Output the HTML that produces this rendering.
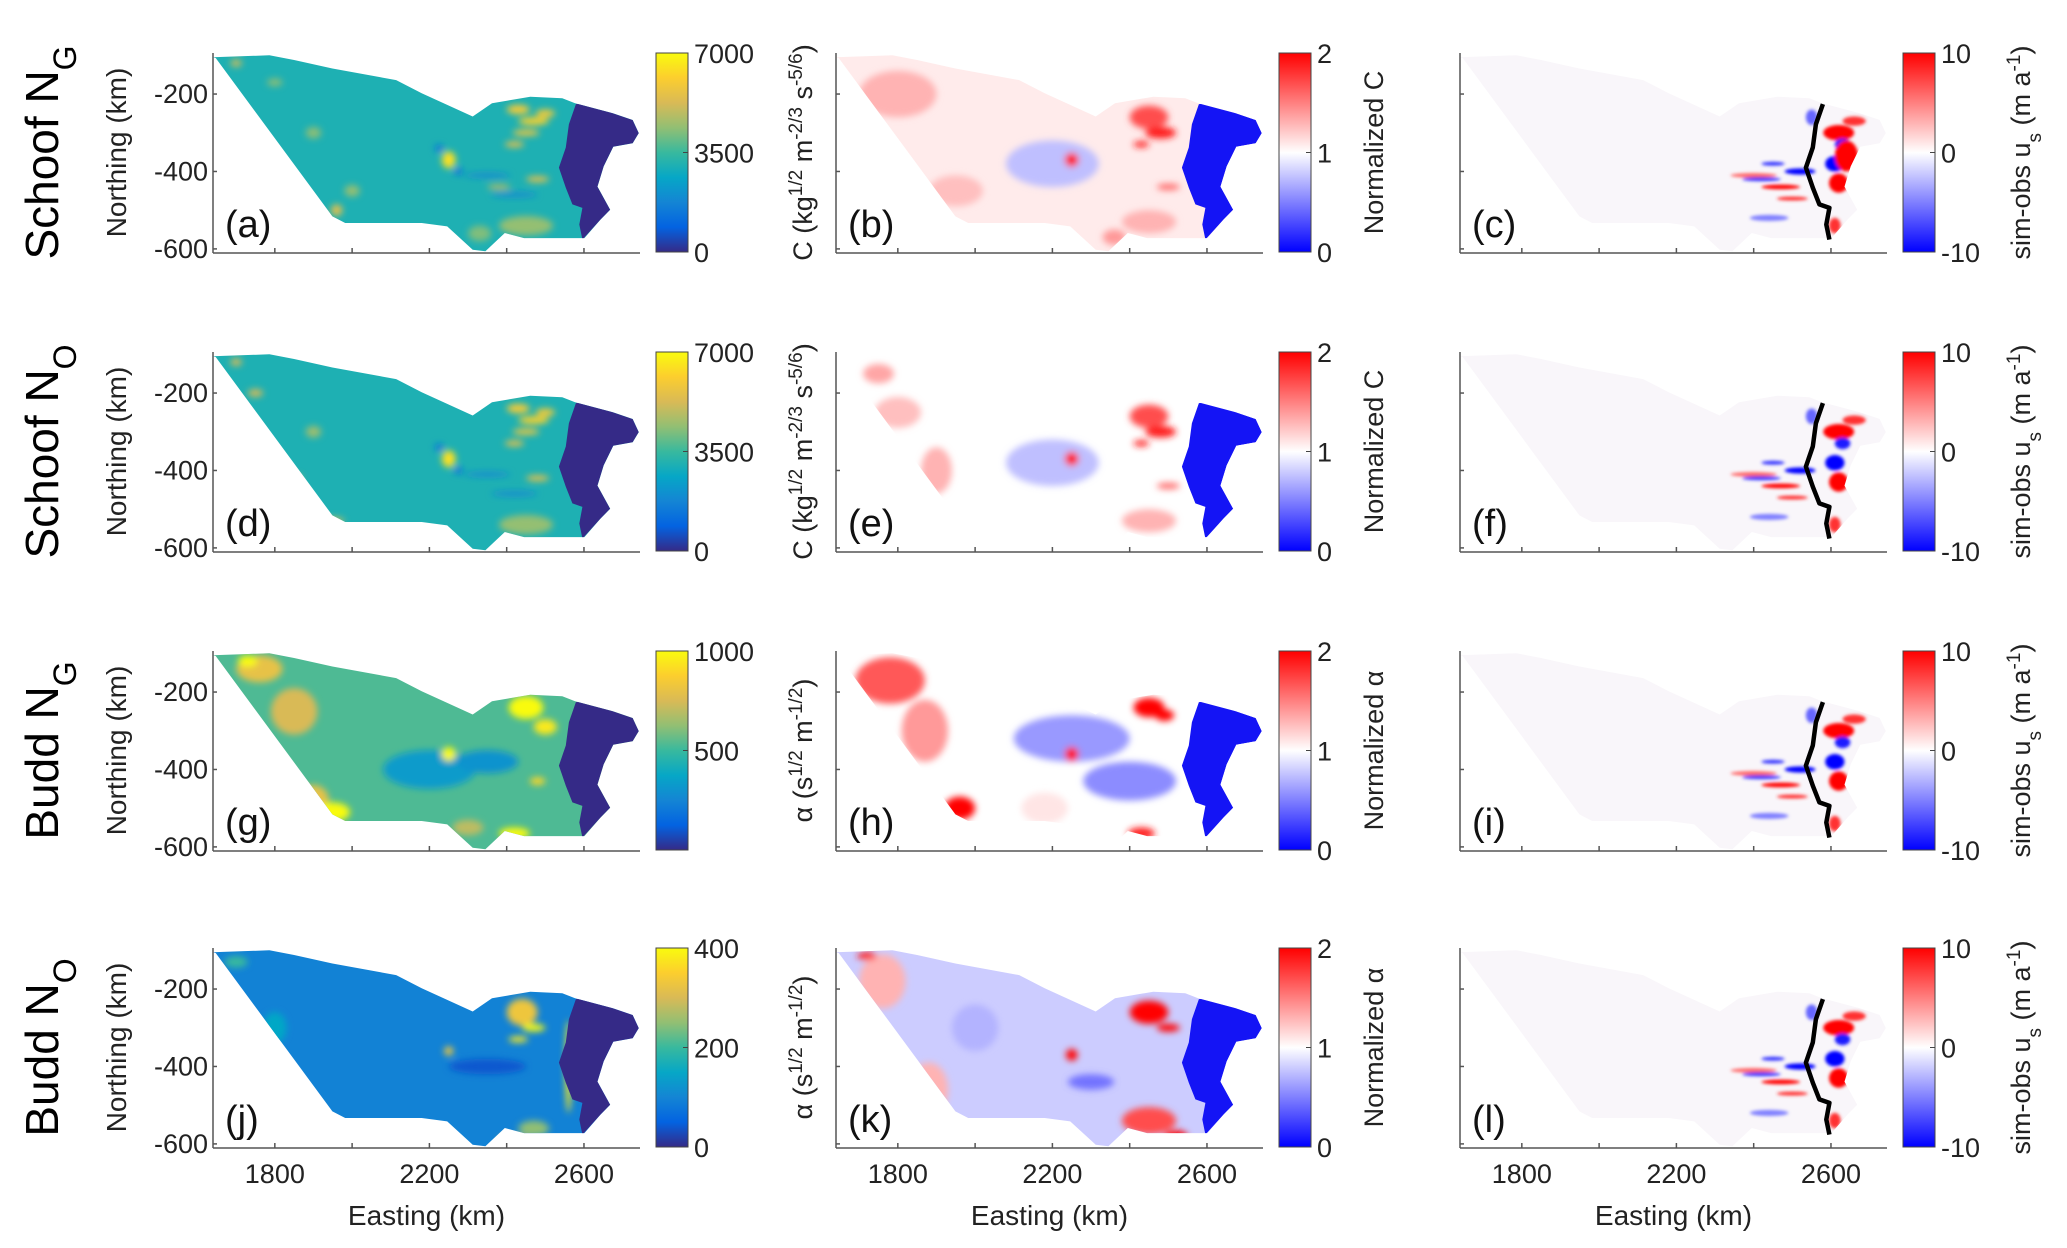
<!DOCTYPE html>
<html><head><meta charset="utf-8">
<style>
html,body{margin:0;padding:0;background:#fff;}
svg{display:block;font-family:"Liberation Sans",sans-serif;}
</style></head>
<body>
<svg id="fig" width="2067" height="1248" viewBox="0 0 2067 1248" xmlns="http://www.w3.org/2000/svg">
<defs id="defs">
<filter id="blur" x="-20%" y="-20%" width="140%" height="140%"><feGaussianBlur stdDeviation="3.5"/></filter>
<filter id="blurS" x="-20%" y="-20%" width="140%" height="140%"><feGaussianBlur stdDeviation="1.5"/></filter>
</defs>
</svg>
<script>
// ---- data ----
const xTicks = [1800, 2000, 2200, 2400, 2600];
const xTickLabels = ["1800", "", "2200", "", "2600"];
const yTicks = [-200, -400, -600];
const yTickLabels = ["-200", "-400", "-600"];
const xDomain = [1640, 2745];
const yDomain = [-94, -608];
const outlineE = [1639,1786,1850,1949,2114,2180,2312,2362,2461,2544,2577,2676,2726,2742,2726,2676,2651,2635,2668,2643,2601,2445,2395,2345,2312,2246,2180,1982,1949,1647];
const outlineN = [-105,-100,-112,-134,-164,-198,-258,-224,-207,-211,-224,-250,-267,-301,-327,-336,-387,-439,-499,-524,-572,-572,-559,-606,-602,-542,-533,-533,-516,-107];
const groundE = [2579,2561,2553,2535,2553,2570,2596,2588,2596];
const groundN = [-226,-278,-338,-390,-442,-485,-494,-537,-576];
const shelfRightE = [2643,2668,2635,2651,2676,2726,2742,2726,2676,2610];
const shelfRightN = [-524,-499,-439,-387,-336,-327,-301,-267,-250,-224];
const rowNames = ["Schoof N", "Schoof N", "Budd N", "Budd N"];
const rowSubs = ["G", "O", "G", "O"];
const panelLetters = [["(a)","(b)","(c)"],["(d)","(e)","(f)"],["(g)","(h)","(i)"],["(j)","(k)","(l)"]];
const col1Max = [7000, 7000, 1000, 400];
const col1TickVals = [[0,3500,7000],[0,3500,7000],[500,1000],[0,200,400]];
const col2TickVals = [0,1,2];
const col3TickVals = [-10,0,10];
const col1Base = [3050, 3050, 530, 95];
const col2Base = [1.08, 1.0, 1.0, 0.8];
const col3Base = [0.15, 0.15, 0.15, 0.15];
// blobs: [easting, northing, radiusE km, radiusN km, value]
const blobsA = [[1700,-120,15,10,5000],[1800,-170,20,10,4300],[1900,-300,20,15,4300],[2000,-450,20,15,4400],[1960,-500,15,15,5500],[2350,-410,60,6,1800],[2420,-460,60,6,1800],[2450,-540,70,25,4400],[2330,-560,30,20,4200],[2250,-370,18,22,6500],[2225,-340,12,10,1500],[2275,-400,12,10,1500],[2430,-240,30,12,6000],[2470,-270,40,10,6200],[2450,-300,35,8,5800],[2500,-250,25,10,6000],[2420,-330,25,8,5500],[2480,-420,30,8,5500],[2380,-440,30,6,5000]];
const blobsD = [[1700,-120,15,10,5200],[1750,-200,20,10,5200],[1850,-420,20,10,5200],[1950,-530,30,8,5500],[1900,-300,20,15,4500],[2350,-410,60,6,1800],[2420,-460,60,6,1800],[2450,-540,70,25,4400],[2250,-370,18,22,6500],[2225,-340,12,10,1500],[2275,-400,12,10,1500],[2430,-240,30,12,6000],[2470,-270,40,10,6200],[2450,-300,35,8,5800],[2500,-250,25,10,6000],[2420,-330,25,8,5500],[2480,-420,30,8,5500]];
const blobsG = [[1760,-140,60,35,800],[1730,-120,25,15,1000],[1850,-250,60,60,750],[1900,-480,40,40,800],[1950,-510,45,25,1000],[2200,-400,120,50,330],[2350,-380,80,30,300],[2300,-550,40,20,700],[2450,-240,45,30,1000],[2500,-290,30,20,950],[2250,-360,18,18,1000],[2420,-565,40,15,1000],[2480,-430,20,10,900]];
const blobsJ = [[1700,-130,30,15,200],[1800,-300,30,40,150],[2350,-400,100,20,40],[2470,-560,40,20,250],[2440,-260,40,35,330],[2470,-300,30,10,400],[2430,-330,25,8,380],[2250,-360,12,12,330],[2420,-590,40,10,350],[2560,-400,8,120,380]];
const blobsB = [[1800,-200,100,60,1.3],[1950,-450,70,40,1.25],[2200,-380,120,60,0.75],[2450,-530,70,30,1.3],[2360,-570,30,20,1.4],[2250,-370,18,18,2],[2450,-260,50,30,1.7],[2480,-300,40,15,1.9],[2430,-330,20,8,1.9],[2500,-440,30,8,1.6]];
const blobsE = [[1750,-150,40,25,1.35],[1900,-400,40,60,1.3],[1800,-250,60,40,1.25],[2200,-380,120,60,0.75],[2450,-530,70,30,1.3],[2250,-370,18,18,2],[2450,-260,50,30,1.7],[2480,-300,40,15,1.9],[2430,-330,20,8,1.9],[2500,-440,30,8,1.6]];
const blobsH = [[1780,-170,90,60,1.65],[1870,-300,60,80,1.4],[1960,-500,40,30,2],[2250,-320,150,60,0.6],[2400,-430,120,50,0.55],[2180,-500,60,40,1.1],[2450,-240,40,25,2],[2490,-260,25,15,2],[2250,-360,18,18,2],[2430,-565,35,15,1.9]];
const blobsK = [[1760,-180,60,70,1.3],[1880,-460,50,70,1.3],[2000,-300,60,60,0.7],[2300,-440,60,20,0.45],[1720,-115,25,10,1.9],[2450,-260,50,30,2],[2500,-300,30,10,2],[2450,-540,70,35,1.7],[2520,-580,30,15,2],[2250,-370,15,15,2]];
const blobsDiff = [[2400,-410,60,6,6],[2420,-420,50,5,-8],[2470,-440,50,6,10],[2520,-400,40,8,-10],[2450,-380,30,5,-8],[2500,-470,40,5,8],[2440,-520,50,8,-5],[2620,-300,40,20,10],[2660,-270,30,12,8],[2610,-380,25,20,-10],[2620,-430,25,25,10],[2630,-330,20,15,-9],[2610,-540,15,20,8],[2550,-260,15,20,-6]];
const blobsC = blobsDiff.concat([[2640,-360,30,40,10]]);

// ---- layout ----
const colLeft = [213, 836, 1460];
const rowTop = [53, 352, 651, 948];
const AW = 427, AH = 199;
const svg = document.getElementById('fig');
const defs = document.getElementById('defs');
const NS = "http://www.w3.org/2000/svg";
function mk(tag, attrs, parent){const e=document.createElementNS(NS,tag);for(const k in attrs)e.setAttribute(k,attrs[k]);(parent||svg).appendChild(e);return e;}

const parula = [[53,42,135],[3,99,225],[20,133,212],[6,167,198],[56,185,158],[146,191,115],[217,186,86],[252,206,46],[249,251,14]];
function lerpMap(stops,t){t=Math.max(0,Math.min(1,t));const n=stops.length-1;const i=Math.min(n-1,Math.floor(t*n));const f=t*n-i;const a=stops[i],b=stops[i+1];return `rgb(${Math.round(a[0]+(b[0]-a[0])*f)},${Math.round(a[1]+(b[1]-a[1])*f)},${Math.round(a[2]+(b[2]-a[2])*f)})`;}
const bwr = [[0,0,255],[255,255,255],[255,0,0]];

function sx(c,E){return colLeft[c]+(E-xDomain[0])/(xDomain[1]-xDomain[0])*AW;}
function sy(r,N){return rowTop[r]+(yDomain[0]-N)/(yDomain[0]-yDomain[1])*AH;}

function txt(s,attrs,parent){const t=mk('text',attrs,parent);t.textContent=s;return t;}

const allBlobs = [[blobsA,blobsB,blobsC],[blobsD,blobsE,blobsDiff],[blobsG,blobsH,blobsDiff],[blobsJ,blobsK,blobsDiff]];

for(let r=0;r<4;r++){
  const rl = mk('text',{x:0,y:0,'font-size':46,'text-anchor':'middle',transform:`translate(58,${rowTop[r]+AH/2}) rotate(-90)`});
  
  
  rl.appendChild(document.createTextNode(rowNames[r]));
  const sub = mk('tspan',{'font-size':32,'baseline-shift':'sub'},rl); sub.textContent=rowSubs[r];

  for(let c=0;c<3;c++){
    const L=colLeft[c], T=rowTop[r];
    const g = mk('g',{});
    
    
    const cpId=`cp${r}${c}`;
    const cp = mk('clipPath',{id:cpId},defs);
    const pts = outlineE.map((E,i)=>`${sx(c,E).toFixed(1)},${sy(r,outlineN[i]).toFixed(1)}`).join(' ');
    mk('polygon',{points:pts},cp);
    const mg = mk('g',{'clip-path':`url(#${cpId})`},g);
    
    
    let colorOf;
    if(c===0) colorOf=v=>lerpMap(parula,v/col1Max[r]);
    else if(c===1) colorOf=v=>lerpMap(bwr,v/2);
    else colorOf=v=>lerpMap(bwr,(v+10)/20);
    const base = c===0?col1Base[r]:(c===1?col2Base[r]:col3Base[r]);
    mk('rect',{x:L-5,y:T-5,width:AW+10,height:AH+10,fill:c===2?'rgb(249,246,250)':colorOf(base)},mg);
    const bg = mk('g',{filter:c===2?'url(#blurS)':'url(#blur)'},mg);
    const kx = AW/(xDomain[1]-xDomain[0]), ky = AH/(yDomain[0]-yDomain[1]);
    allBlobs[r][c].forEach(b=>{
      const el = mk('ellipse',{cx:sx(c,b[0]),cy:sy(r,b[1]),rx:b[2]*kx,ry:b[3]*ky,fill:colorOf(b[4])},bg);
      
      
    });
    if(c<2){
      const sp = groundE.map((E,i)=>`${sx(c,E).toFixed(1)},${sy(r,groundN[i]).toFixed(1)}`).concat(shelfRightE.map((E,i)=>`${sx(c,E).toFixed(1)},${sy(r,shelfRightN[i]).toFixed(1)}`)).join(' ');
      const sh = mk('polygon',{points:sp,fill:c===0?lerpMap(parula,0):'rgb(20,20,245)'},mg);
      
      
    } else {
      const gp = groundE.map((E,i)=>`${sx(c,E).toFixed(1)},${sy(r,groundN[i]).toFixed(1)}`).join(' ');
      const gl = mk('polyline',{points:gp,fill:'none',stroke:'#000','stroke-width':4.5,'stroke-linejoin':'round'},g);
      
      
    }
    const ax = mk('g',{stroke:'#555','stroke-width':1.5,fill:'none'},g);
    
    
    mk('line',{x1:L,y1:T+AH+1,x2:L+AW,y2:T+AH+1},ax);
    mk('line',{x1:L,y1:T,x2:L,y2:T+AH+1},ax);
    xTicks.forEach((v,i)=>{
      const x=sx(c,v);
      mk('line',{x1:x,y1:T+AH+1,x2:x,y2:T+AH-4},ax);
      if(r===3 && xTickLabels[i]){
        const tl=txt(xTickLabels[i],{x:x,y:T+AH+36,'font-size':27,'text-anchor':'middle',fill:'#222'},g);
        
        
      }
    });
    yTicks.forEach((v,i)=>{
      const y=sy(r,v);
      mk('line',{x1:L,y1:y,x2:L+4,y2:y},ax);
      if(c===0){
        const tl=txt(yTickLabels[i],{x:L-5,y:y+9,'font-size':27,'text-anchor':'end',fill:'#222'},g);
        
        
      }
    });
    const pl = txt(panelLetters[r][c],{x:L+12,y:T+184,'font-size':38,fill:'#111'},g);
    
    
    if(r===3){
      const xl=txt('Easting (km)',{x:L+AW/2,y:T+AH+78,'font-size':28,'text-anchor':'middle',fill:'#222'},g);
      
      
    }
    const CX=L+443, CW=32;
    const gid=`cg${r}${c}`;
    const lg = mk('linearGradient',{id:gid,x1:0,y1:1,x2:0,y2:0},defs);
    const stops = c===0?parula:bwr;
    stops.forEach((s,i)=>mk('stop',{offset:i/(stops.length-1),'stop-color':`rgb(${s[0]},${s[1]},${s[2]})`},lg));
    const cb = mk('rect',{x:CX,y:T,width:CW,height:AH,fill:`url(#${gid})`,stroke:'#444','stroke-width':1},g);
    
    
    let tv, tmin, tmax;
    if(c===0){tv=col1TickVals[r];tmin=0;tmax=col1Max[r];}
    else if(c===1){tv=col2TickVals;tmin=0;tmax=2;}
    else {tv=col3TickVals;tmin=-10;tmax=10;}
    tv.forEach(v=>{
      const y=T+AH-(v-tmin)/(tmax-tmin)*AH;
      mk('line',{x1:CX+CW-5,y1:y,x2:CX+CW,y2:y,stroke:'#444','stroke-width':1},g);
      const tl=txt(String(v),{x:CX+CW+6,y:y+10,'font-size':27,fill:'#222'},g);
      
      
    });
    const cy = T+AH/2;
    if(c===1){
      const t=mk('text',{x:0,y:0,'font-size':27,'text-anchor':'middle',fill:'#222',transform:`translate(${CX+CW+72},${cy}) rotate(-90)`},g);
      
      
      t.textContent = r<2?'Normalized C':'Normalized \u03B1';
    }
    if(c===2){
      const t=mk('text',{x:0,y:0,'font-size':27,'text-anchor':'middle',fill:'#222',transform:`translate(${CX+CW+95},${cy}) rotate(-90)`},g);
      
      
      t.appendChild(document.createTextNode('sim-obs u'));
      const s1=mk('tspan',{'font-size':19,'baseline-shift':'sub'},t);s1.textContent='s';
      t.appendChild(document.createTextNode(' (m a'));
      const s2=mk('tspan',{'font-size':19,'baseline-shift':'super'},t);s2.textContent='-1';
      t.appendChild(document.createTextNode(')'));
    }
    if(c===0){
      const nl=txt('Northing (km)',{x:0,y:0,'font-size':28,'text-anchor':'middle',fill:'#222',transform:`translate(126,${cy}) rotate(-90)`},g);
      
      
      const t=mk('text',{x:0,y:0,'font-size':27,'text-anchor':'middle',fill:'#222',transform:`translate(812,${cy}) rotate(-90)`},svg);
      
      
      if(r<2){
        t.appendChild(document.createTextNode('C (kg'));
        const a=mk('tspan',{'font-size':19,'baseline-shift':'super'},t);a.textContent='1/2';
        t.appendChild(document.createTextNode(' m'));
        const b=mk('tspan',{'font-size':19,'baseline-shift':'super'},t);b.textContent='-2/3';
        t.appendChild(document.createTextNode(' s'));
        const d=mk('tspan',{'font-size':19,'baseline-shift':'super'},t);d.textContent='-5/6';
        t.appendChild(document.createTextNode(')'));
      } else {
        t.appendChild(document.createTextNode('\u03B1 (s'));
        const a=mk('tspan',{'font-size':19,'baseline-shift':'super'},t);a.textContent='1/2';
        t.appendChild(document.createTextNode(' m'));
        const b=mk('tspan',{'font-size':19,'baseline-shift':'super'},t);b.textContent='-1/2';
        t.appendChild(document.createTextNode(')'));
      }
    }
  }
}
</script>
</body></html>
